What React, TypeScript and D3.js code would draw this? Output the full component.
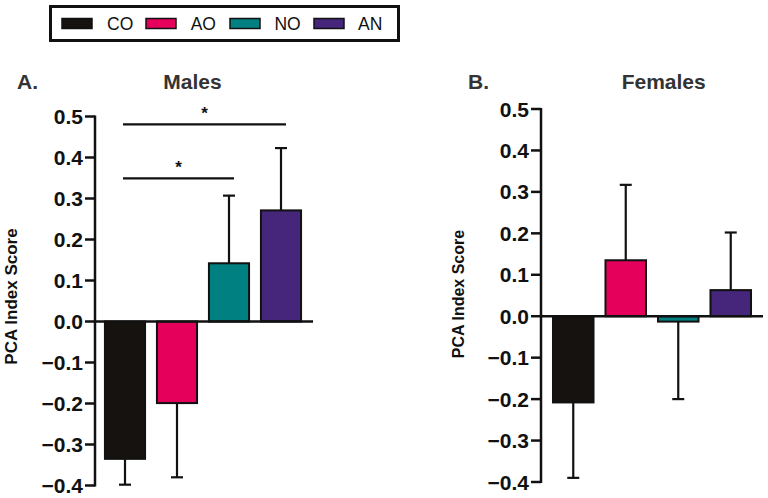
import React from "react";
import * as d3 from "d3";

const categories = ["CO", "AO", "NO", "AN"];
const colors = ["#15120f", "#e5005b", "#008080", "#46267a"];

const malesMeans = [-0.335, -0.199, 0.142, 0.271];
const malesErr = [0.063, 0.181, 0.165, 0.152];

const femalesMeans = [-0.208, 0.135, -0.013, 0.063];
const femalesErr = [0.182, 0.182, 0.187, 0.139];

const yTicks = [0.5, 0.4, 0.3, 0.2, 0.1, 0.0, -0.1, -0.2, -0.3, -0.4];
const yDomain: [number, number] = [-0.4, 0.5];

const malesSig = [
  { from: 0, to: 3, level: 0.481, label: "*" },
  { from: 0, to: 2, level: 0.349, label: "*" },
];

const FONT = "'Liberation Sans', Arial, Helvetica, sans-serif";

type PanelProps = {
  title: string;
  letter: string;
  letterX: number;
  titleX: number;
  axisX: number;
  axisEnd: number;
  barRange: [number, number];
  yRange: [number, number];
  ytitleX: number;
  ytitleY: number;
  ytitleSize: number;
  means: number[];
  errs: number[];
  sig?: { from: number; to: number; level: number; label: string }[];
};

function Panel(p: PanelProps) {
  const y = d3.scaleLinear().domain(yDomain).range(p.yRange);
  const x = d3
    .scaleBand<string>()
    .domain(categories)
    .range(p.barRange)
    .paddingInner(0.19)
    .paddingOuter(0.095);
  const bw = x.bandwidth();
  const y0 = y(0);
  const fmt = d3.format(".1f");
  return (
    <g>
      <text x={p.letterX} y={89} fontFamily={FONT} fontWeight="bold" fontSize={21} fill="#333">
        {p.letter}
      </text>
      <text x={p.titleX} y={89} fontFamily={FONT} fontWeight="bold" fontSize={21} fill="#333" textAnchor="middle">
        {p.title}
      </text>
      <text
        transform={`translate(${p.ytitleX},${p.ytitleY}) rotate(-90)`}
        fontFamily={FONT}
        fontWeight="bold"
        fontSize={p.ytitleSize}
        textAnchor="middle"
        fill="#111"
      >
        PCA Index Score
      </text>
      {categories.map((c, i) => {
        const v = p.means[i];
        const top = Math.min(y(v), y0);
        const h = Math.abs(y(v) - y0);
        const cx = (x(c) as number) + bw / 2;
        const ye = y(v + Math.sign(v) * p.errs[i]);
        return (
          <g key={c}>
            <line x1={cx} x2={cx} y1={y(v)} y2={ye} stroke="#111" strokeWidth={2.2} />
            <line x1={cx - 6} x2={cx + 6} y1={ye} y2={ye} stroke="#111" strokeWidth={2.2} />
            <rect
              x={(x(c) as number) + 1}
              y={top}
              width={bw - 2}
              height={Math.max(h, 1)}
              fill={colors[i]}
              stroke="#111"
              strokeWidth={2}
            />
          </g>
        );
      })}
      <line x1={p.axisX} x2={p.axisX} y1={y(0.5) - 1} y2={y(-0.4) + 1} stroke="#111" strokeWidth={2.5} />
      <line x1={p.axisX} x2={p.axisEnd} y1={y0} y2={y0} stroke="#111" strokeWidth={2.5} />
      {yTicks.map((t) => (
        <g key={t}>
          <line x1={p.axisX - 10} x2={p.axisX} y1={y(t)} y2={y(t)} stroke="#111" strokeWidth={2.5} />
          <text
            x={p.axisX - 12}
            y={y(t)}
            dy="0.36em"
            textAnchor="end"
            fontFamily={FONT}
            fontWeight="bold"
            fontSize={21}
            fill="#111"
          >
            {fmt(t)}
          </text>
        </g>
      ))}
      {(p.sig || []).map((s, i) => {
        const x1 = (x(categories[s.from]) as number) + bw / 2 - 2;
        const x2 = (x(categories[s.to]) as number) + bw / 2 + 5;
        const ly = y(s.level);
        return (
          <g key={i}>
            <line x1={x1} x2={x2} y1={ly} y2={ly} stroke="#111" strokeWidth={2.2} />
            <text
              x={(x1 + x2) / 2}
              y={ly - 5}
              textAnchor="middle"
              fontFamily={FONT}
              fontWeight="bold"
              fontSize={17}
              fill="#111"
            >
              {s.label}
            </text>
          </g>
        );
      })}
    </g>
  );
}

export default function App() {
  return (
    <svg
      width={768}
      height={498}
      style={{ position: "absolute", left: 0, top: 0, background: "#fff" }}
    >
      <rect x={0} y={0} width={768} height={498} fill="#fff" />
      <rect x={50.5} y={6.5} width={348} height={34} fill="none" stroke="#111" strokeWidth={3} />
      {categories.map((c, i) => (
        <g key={c}>
          <rect x={62 + i * 84} y={18.5} width={30} height={10} fill={colors[i]} stroke="#111" strokeWidth={1.5} />
          <text x={107 + i * 83.7} y={30} fontFamily={FONT} fontSize={17.5} fill="#111">
            {c}
          </text>
        </g>
      ))}
      <Panel
        title="Males"
        letter="A."
        letterX={17}
        titleX={192.5}
        axisX={95}
        axisEnd={313}
        barRange={[99, 307]}
        yRange={[485.5, 116.5]}
        ytitleX={17}
        ytitleY={296.5}
        ytitleSize={17}
        means={malesMeans}
        errs={malesErr}
        sig={malesSig}
      />
      <Panel
        title="Females"
        letter="B."
        letterX={468}
        titleX={663.7}
        axisX={541}
        axisEnd={763}
        barRange={[547, 757]}
        yRange={[482, 109]}
        ytitleX={464}
        ytitleY={294}
        ytitleSize={16}
        means={femalesMeans}
        errs={femalesErr}
      />
    </svg>
  );
}
